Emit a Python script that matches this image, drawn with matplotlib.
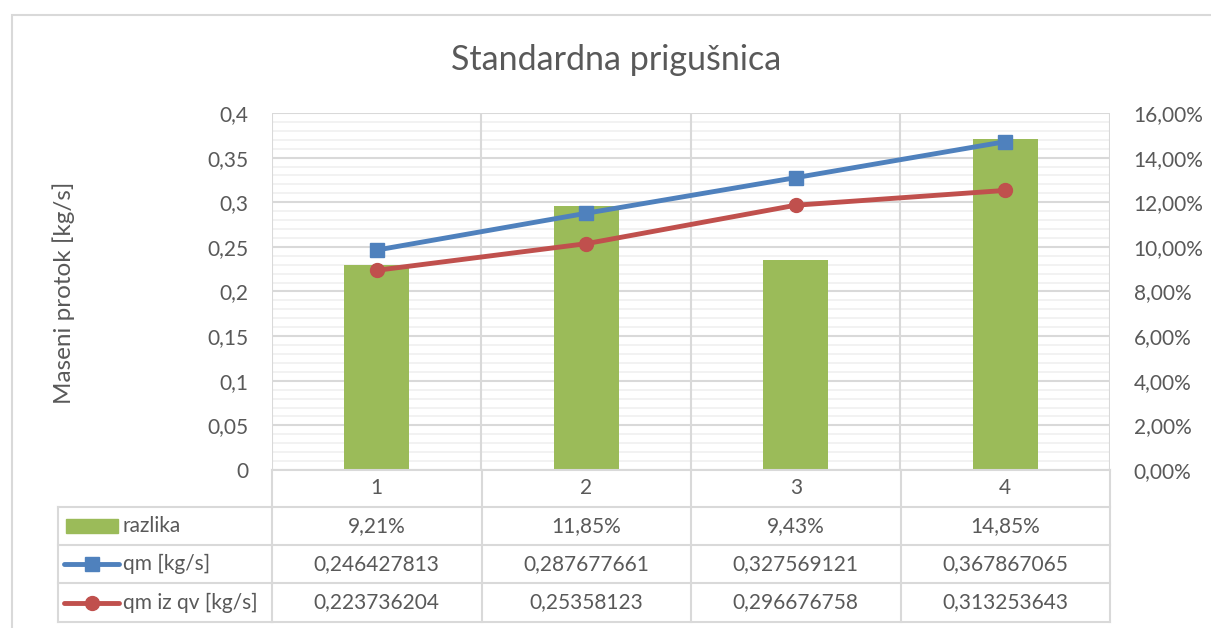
import numpy as np
import matplotlib
matplotlib.use("Agg")
import matplotlib.pyplot as plt
from matplotlib.lines import Line2D
from matplotlib.patches import Rectangle
from matplotlib.transforms import blended_transform_factory

# ---- data ----
categories = [1, 2, 3, 4]
razlika = [9.21, 11.85, 9.43, 14.85]            # percent
qm = [0.246427813, 0.287677661, 0.327569121, 0.367867065]
qm_iz_qv = [0.223736204, 0.25358123, 0.296676758, 0.313253643]

razlika_txt = ["9,21%", "11,85%", "9,43%", "14,85%"]
qm_txt = ["0,246427813", "0,287677661", "0,327569121", "0,367867065"]
qmqv_txt = ["0,223736204", "0,25358123", "0,296676758", "0,313253643"]

series_names = ["razlika", "qm [kg/s]", "qm iz qv [kg/s]"]

# ---- style ----
W, H = 1211, 628
GREEN = "#9BBB59"
BLUE = "#4F81BD"
RED = "#C0504D"
TXT = "#595959"
GRID = "#D9D9D9"
MINOR = "#F0F0F0"

plt.rcParams['font.family'] = ['Lato', 'DejaVu Sans']

def fx(px):
    return px / W

def fy(py):
    return 1 - py / H

fig = plt.figure(figsize=(W / 100, H / 100), dpi=100, facecolor='w')

# outer chart border
fig.add_artist(Rectangle((fx(12), fy(640)), fx(1230) - fx(12), fy(15) - fy(640),
                         transform=fig.transFigure, fill=False, edgecolor=GRID, lw=1.5))

left, right, top, bottom = 272, 1110, 113, 470
ax = fig.add_axes([fx(left), fy(bottom), fx(right) - fx(left), fy(top) - fy(bottom)])
ax2 = ax.twinx()

x = np.array(categories)

# bars on the secondary (percent) axis
ax2.bar(x, np.array(razlika) / 100, width=0.31, color=GREEN, zorder=2)
ax2.set_ylim(0, 0.16)
ax2.set_yticks(np.arange(0, 0.1601, 0.02))
ax2.set_yticks(np.arange(0, 0.16, 0.004), minor=True)
ax2.set_yticklabels([("%.2f%%" % (v * 100)).replace(".", ",") for v in np.arange(0, 0.1601, 0.02)])
ax2.set_axisbelow(True)
ax2.grid(which='minor', axis='y', color=MINOR, lw=1.2)
ax2.grid(which='major', axis='y', color=GRID, lw=1.5)
for xv in [0.5, 1.5, 2.5, 3.5, 4.5]:
    ax2.axvline(xv, color=GRID, lw=1.5, zorder=1)
ax2.tick_params(axis='y', which='both', length=0, pad=17, labelsize=15, labelcolor=TXT)

# lines on the primary axis
ax.plot(x, qm, color=BLUE, lw=3.5, marker='s', ms=10, zorder=3)
ax.plot(x, qm_iz_qv, color=RED, lw=3.5, marker='o', ms=10, zorder=3)
ax.set_xlim(0.5, 4.5)
ax.set_ylim(0, 0.4)
ax.set_yticks(np.arange(0, 0.401, 0.05))
ax.set_yticklabels(["0", "0,05", "0,1", "0,15", "0,2", "0,25", "0,3", "0,35", "0,4"])
ax.set_xticks([])
ax.tick_params(axis='y', length=0, pad=17, labelsize=15, labelcolor=TXT)
ax.set_zorder(ax2.get_zorder() + 1)
ax.patch.set_visible(False)
for a in (ax, ax2):
    for sp in a.spines.values():
        sp.set_visible(False)

fig.text(fx(64), fy(293), "Maseni protok [kg/s]", rotation=90, ha='center', va='center',
         fontsize=17.5, color=TXT)
fig.text(fx(616), fy(60), "Standardna prigušnica", ha='center', va='center',
         fontsize=24.5, color=TXT)

# ---- data table ----
tr = blended_transform_factory(ax.transData, fig.transFigure)
rows_y = [470, 507, 545, 583, 622]
tbl_left = 58

for i, yy in enumerate(rows_y):
    if i > 0:
        fig.add_artist(Line2D([fx(tbl_left), fx(left)], [fy(yy), fy(yy)],
                              transform=fig.transFigure, color=GRID, lw=1.5))
    fig.add_artist(Line2D([0.5, 4.5], [fy(yy), fy(yy)], transform=tr, color=GRID, lw=1.5))
for xv in [0.5, 1.5, 2.5, 3.5, 4.5]:
    fig.add_artist(Line2D([xv, xv], [fy(rows_y[0]), fy(rows_y[-1])], transform=tr,
                          color=GRID, lw=1.5))
fig.add_artist(Line2D([fx(tbl_left), fx(tbl_left)], [fy(rows_y[1]), fy(rows_y[-1])],
                      transform=fig.transFigure, color=GRID, lw=1.5))

def row_mid(i):
    return fy((rows_y[i] + rows_y[i + 1]) / 2)

for c in categories:
    fig.text(c, row_mid(0), str(c), transform=tr, ha='center', va='center',
             fontsize=15, color=TXT)
for r, vals in enumerate([razlika_txt, qm_txt, qmqv_txt]):
    for c, v in zip(categories, vals):
        fig.text(c, row_mid(r + 1), v, transform=tr, ha='center', va='center',
                 fontsize=15, color=TXT)
    fig.text(fx(123), row_mid(r + 1), series_names[r], ha='left', va='center',
             fontsize=15, color=TXT)

# legend keys inside the table
fig.add_artist(Rectangle((fx(66), fy(533)), fx(118) - fx(66), fy(519) - fy(533),
                         transform=fig.transFigure, color=GREEN))
for r, col, mk in [(2, BLUE, 's'), (3, RED, 'o')]:
    ym = row_mid(r)
    fig.add_artist(Line2D([fx(64), fx(91.5), fx(119)], [ym, ym, ym], transform=fig.transFigure,
                          color=col, lw=3.5, marker=mk, ms=10, markevery=[1],
                          solid_capstyle='round'))

fig.savefig("out.png", dpi=100, facecolor='w')
